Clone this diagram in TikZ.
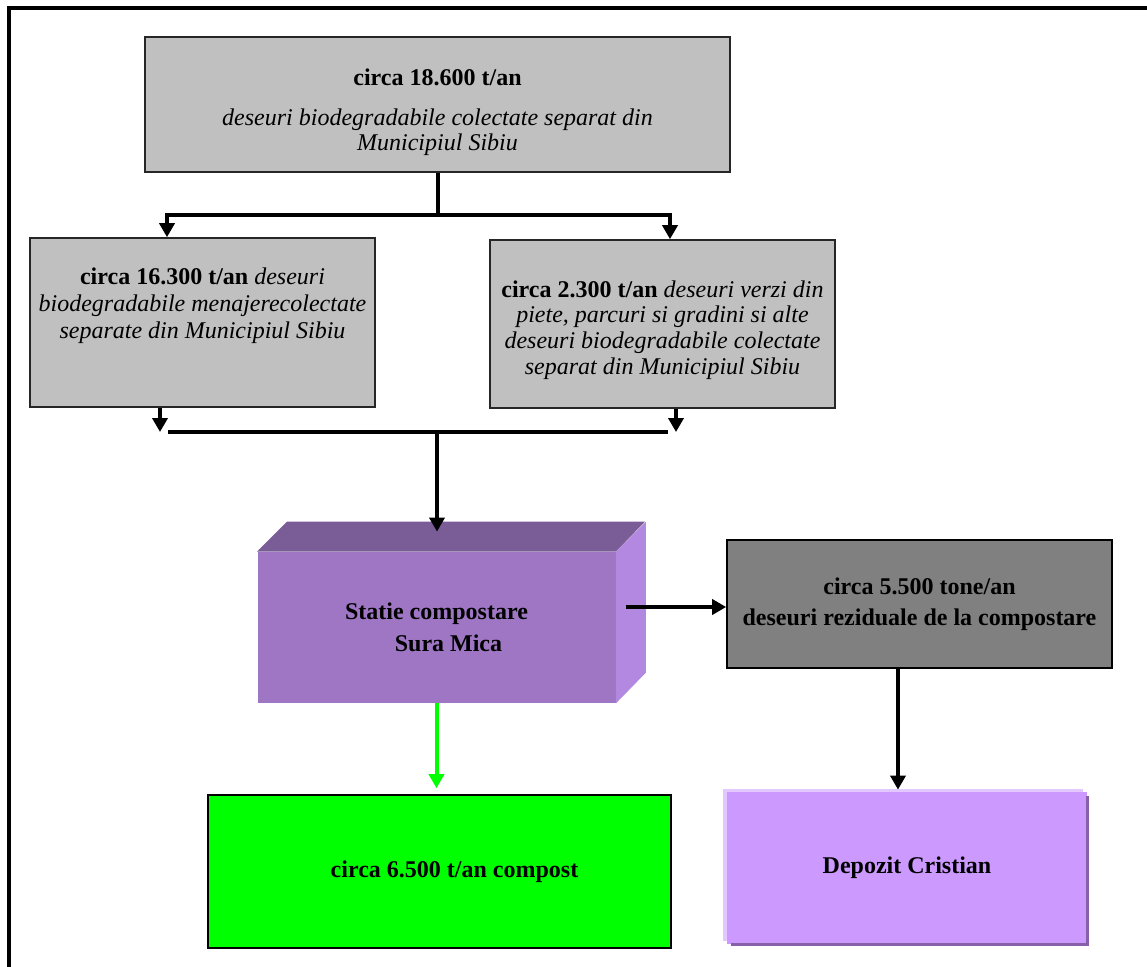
\documentclass[tikz,border=0pt]{standalone}
\usepackage{fontspec}
\setmainfont{Liberation Serif}
\usetikzlibrary{arrows.meta,positioning,calc,backgrounds}
\definecolor{boxgray}{RGB}{192,192,192}
\definecolor{residgray}{RGB}{128,128,128}
\definecolor{stfront}{RGB}{158,118,196}
\definecolor{sttop}{RGB}{122,92,150}
\definecolor{stside}{RGB}{179,136,224}
\definecolor{lilac}{RGB}{204,153,255}
\definecolor{lilaclight}{RGB}{226,200,255}
\definecolor{lilacdark}{RGB}{136,96,168}
\definecolor{brightgreen}{RGB}{0,255,0}

\begin{document}
\begin{tikzpicture}[
    x=0.5pt, y=-0.5pt,
    font=\fontsize{12}{12.5}\selectfont,
    box/.style={rectangle, draw=black!85, line width=0.8pt, inner sep=0pt},
    graybox/.style={box, fill=boxgray},
    txt/.style={align=center, inner sep=0pt},
    arrow/.style={-{Triangle[width=7.5pt,length=7pt]}, line width=2pt},
    link/.style={line width=2pt}
]
    \clip (0,0) rectangle (1147,966);
    % Frame
    \draw[line width=1.7pt] (9,1000) -- (9,8) -- (1200,8);

    % Collected waste
    \node[graybox, minimum width=292.5pt, minimum height=67.5pt] (total) at (437.5,104.5) {};
    \node[txt] (totaltxt) at (437.5,112) {\textbf{circa 18.600 t/an}\\[7.5pt]\textit{deseuri biodegradabile colectate separat din}\\\textit{Municipiul Sibiu}};

    % Split streams
    \node[graybox, minimum width=172.5pt, minimum height=84.5pt] (household) at (202.5,322.5) {};
    \node[txt, font=\fontsize{12}{13.5}\selectfont] (householdtxt) at (202.5,306) {\textbf{circa 16.300 t/an} \textit{deseuri}\\\textit{biodegradabile menajerecolectate}\\\textit{separate din Municipiul Sibiu}};
    \node[graybox, minimum width=172.5pt, minimum height=84pt] (greens) at (662.5,324) {};
    \node[txt, font=\fontsize{12}{12.8}\selectfont] (greenstxt) at (662.5,330) {\textbf{circa 2.300 t/an} \textit{deseuri verzi din}\\\textit{piete, parcuri si gradini si alte}\\\textit{deseuri biodegradabile colectate}\\\textit{separat din Municipiul Sibiu}};

    % Composting station
    \node[rectangle, fill=stfront, inner sep=0pt, minimum width=179pt, minimum height=75.5pt, align=center, font=\bfseries\fontsize{12}{12.5}\selectfont] (station) at (436.5,627.5) {Statie compostare\\[3.5pt]\hspace*{12pt}Sura Mica};
    \fill[sttop] (station.north west) -- ++(30,-30) -- ++(358,0) -- (station.north east) -- cycle;
    \fill[stside] (station.north east) -- ++(30,-30) -- ++(0,151) -- (station.south east) -- cycle;

    % Outputs
    \node[box, draw=black, fill=residgray, minimum width=192.5pt, minimum height=64pt, align=center, font=\bfseries\fontsize{12}{12.5}\selectfont] (residue) at (919.5,604) {circa 5.500 tone/an\\[3pt]deseuri reziduale de la compostare};
    \node[box, draw=black, fill=brightgreen, minimum width=231.5pt, minimum height=76.5pt] (compost) at (439.5,871.5) {\textbf{\hspace*{15pt}circa 6.500 t/an compost}};
    \node[rectangle, fill=lilac, inner sep=0pt, minimum width=180pt, minimum height=76pt] (depot) at (907,868) {\textbf{Depozit Cristian}};
    \begin{scope}[on background layer]
        \fill[lilaclight] ([shift={(-4,-3)}]depot.north west) rectangle ([shift={(-4,-3)}]depot.south east);
    \end{scope}
    \draw[lilacdark, line width=1.2pt] ([yshift=-2pt]depot.north east) -- (depot.south east) -- ([xshift=2pt]depot.south west);

    % Connectors
    \coordinate (split) at (437.5,215);
    \coordinate (splitl) at (167,215);
    \coordinate (splitr) at (670,215);
    \draw[link] (total.south) -- (split);
    \draw[arrow] (split) -| (splitl |- household.north);
    \draw[arrow] (split) -| (splitr |- greens.north);

    \coordinate (dropl) at (160,432);
    \coordinate (dropr) at (676,432);
    \coordinate (mergel) at (168,432);
    \coordinate (merger) at (668,432);
    \coordinate (merge) at (437,430);
    \draw[arrow] (dropl |- household.south) -- (dropl);
    \draw[arrow] (dropr |- greens.south) -- (dropr);
    \draw[link] (mergel) -- (merger);
    \draw[arrow] (merge) -- ([yshift=10pt]merge |- station.north);

    \coordinate (sout) at (626,607);
    \draw[arrow] (sout) -- (sout -| residue.west);
    \draw[arrow] ([xshift=-10.75pt]residue.south) -- ($([xshift=-10.75pt]residue.south |- depot.north)+(0,-2)$);
    \draw[arrow, brightgreen] (station.south) -- ($(station.south |- compost.north)+(0,-6)$);
\end{tikzpicture}
\end{document}
